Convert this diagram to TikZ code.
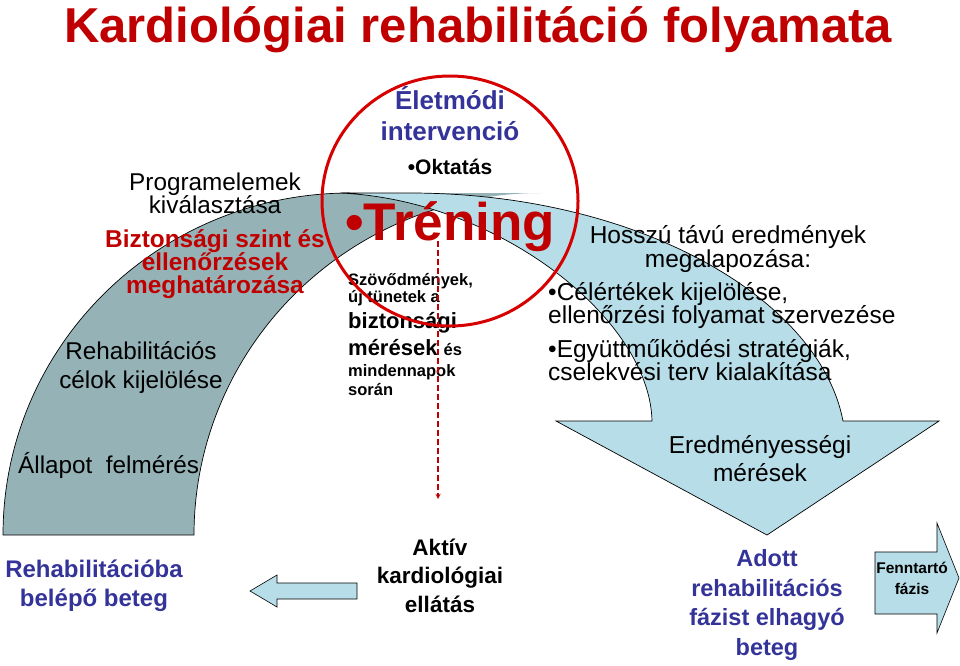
\documentclass[tikz,border=0pt]{standalone}
\usepackage{fontspec}
\setmainfont{Liberation Sans}
\usetikzlibrary{arrows}
\definecolor{titlered}{HTML}{C00000}
\definecolor{ringred}{HTML}{D60000}
\definecolor{deepblue}{HTML}{333399}
\definecolor{backteal}{HTML}{95B3B7}
\definecolor{frontblue}{HTML}{B7DEE8}
\newcommand{\fixskip}{\lineskiplimit=-100pt\relax}

\begin{document}
\begin{tikzpicture}[
    x=1pt, y=-1pt,
    words/.style 2 args={inner sep=0pt, anchor=base, align=center, font=\fontsize{#1}{#2}\selectfont\fixskip},
    heavy/.style 2 args={inner sep=0pt, anchor=base, align=center, font=\fontsize{#1}{#2}\selectfont\bfseries\fixskip},
    band/.style={draw=black, line width=0.7pt},
    blockarrow/.style={draw=black, line width=0.6pt, fill=frontblue},
    ring/.style={draw=ringred, line width=3pt},
    probe/.style={->, >=stealth, dash pattern=on 6pt off 3pt, draw=titlered, line width=1.3pt}
]
    \useasboundingbox (0,0) rectangle (960,665);

    % back part of the bent arrow
    \fill[backteal] (3,535) arc[start angle=180, end angle=270, x radius=347, y radius=342]
        -- (541,193) arc[start angle=270, end angle=180, x radius=347, y radius=342] -- cycle;
    \draw[band] (194,535) -- (3,535) arc[start angle=180, end angle=270, x radius=347, y radius=342];
    \draw[band] (194,535) arc[start angle=180, end angle=253, x radius=347, y radius=342];
    % front part with the head
    \draw[band, fill=frontblue] (340,193) -- (410,193) .. controls (640,193) and (820,300) .. (843,421)
        -- (939,421) -- (767,535) -- (556,421) -- (652,421)
        .. controls (650,320) and (500,200) .. (340,193) -- cycle;

    % small arrows at the bottom
    \draw[blockarrow] (250,591) -- (277,575) -- (277,583) -- (357,583) -- (357,599) -- (277,599) -- (277,607) -- cycle;
    \draw[blockarrow] (875,552) -- (937,552) -- (937,523) -- (959,578) -- (937,633) -- (937,614) -- (875,614) -- cycle;

    % multi-line nodes sit on the baseline of their last line
    \node[heavy={49}{55}, text=titlered] (title) at (478,42) {Kardiológiai rehabilitáció folyamata};

    \node[heavy={26}{31}, text=deepblue] (lifestyle) at (450,140) {Életmódi\\intervenció};
    \node[heavy={21}{24}] (education) at (450,174) {•Oktatás};
    \node[heavy={53}{60}, text=titlered] (training) at (450,240) {•Tréning};

    \node[heavy={16.5}{17}, align=left, anchor=base west] (compl) at (348,302) {Szövődmények,\\új tünetek a};
    \node[heavy={22}{27}, align=left, anchor=base west] (safety) at (348,355) {biztonsági\\mérések {\fontsize{16.5}{17}\selectfont és}};
    \node[heavy={16.5}{19}, align=left, anchor=base west] (daily) at (348,395) {mindennapok\\során};

    \node[words={24.3}{23}] (progsel) at (215,213) {Programelemek\\kiválasztása};
    \node[heavy={24.4}{23}, text=titlered] (safelvl) at (215,293) {Biztonsági szint és\\ellenőrzések\\meghatározása};
    \node[words={24.3}{29}] (rehabgoal) at (141,388) {Rehabilitációs\\célok kijelölése};
    \node[words={24.3}{29}, anchor=base west] (status) at (18,473) {Állapot\ \ felmérés};

    \node[words={24.5}{24}] (longterm) at (728,267) {Hosszú távú eredmények\\megalapozása:};
    \node[words={24.5}{23}, align=left, anchor=base west] (goalset) at (548,323) {•Célértékek kijelölése,\\ellenőrzési folyamat szervezése};
    \node[words={24.5}{23}, align=left, anchor=base west] (cooperate) at (548,380) {•Együttműködési stratégiák,\\cselekvési terv kialakítása};
    \node[words={24.5}{28}] (outcome) at (760,481) {Eredményességi\\mérések};

    \node[heavy={24}{29}, text=deepblue] (entry) at (94,606) {Rehabilitációba\\belépő beteg};
    \node[heavy={22.5}{28.5}] (acute) at (440,612) {Aktív\\kardiológiai\\ellátás};
    \node[heavy={23.5}{29.5}, text=deepblue] (leaving) at (767,655) {Adott\\rehabilitációs\\fázist elhagyó\\beteg};
    \node[heavy={15.5}{21}] (maintain) at (912,594) {Fenntartó\\fázis};

    % ring and measurement line on top
    \coordinate (ringmid) at (450,201);
    \draw[ring] (ringmid) ellipse [x radius=128, y radius=125];
    \coordinate (probetop) at (438,241);
    \coordinate (probeend) at (438,499);
    \draw[probe] (probetop) -- (probeend);
\end{tikzpicture}
\end{document}
